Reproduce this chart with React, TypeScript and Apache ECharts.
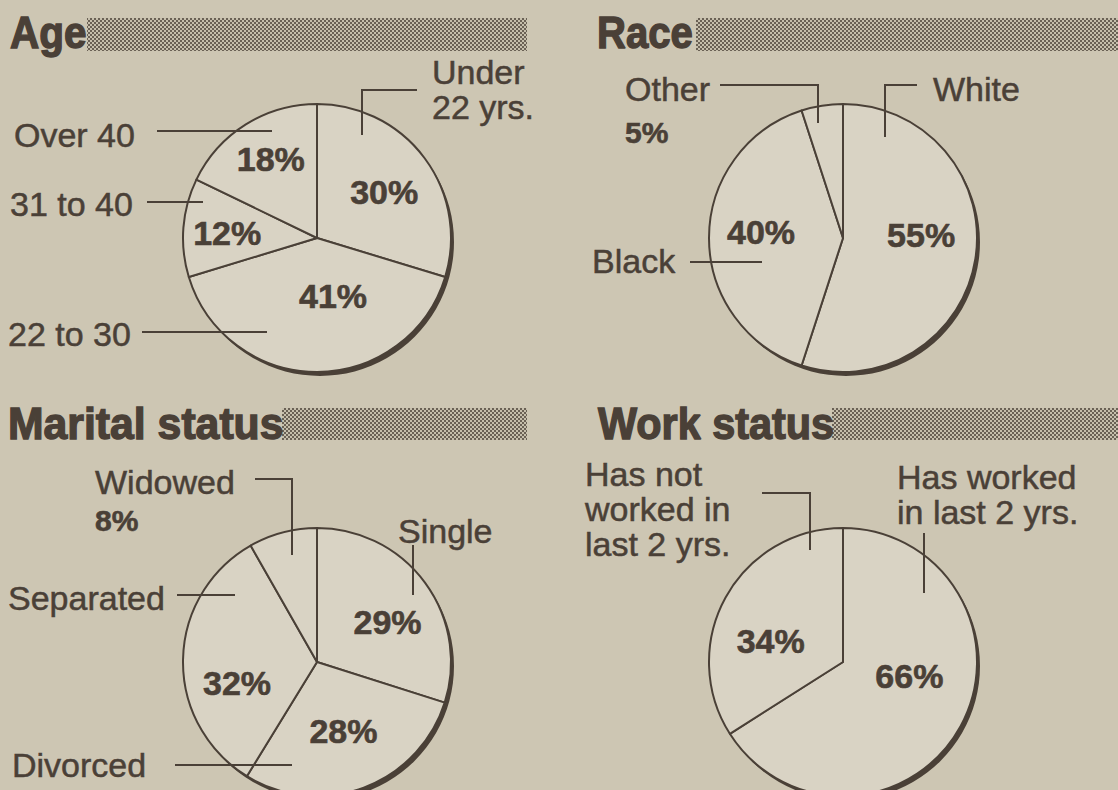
import React, { useEffect, useRef } from "react";
import * as echarts from "echarts";

// ---- data ----
const panelTitles = ["Age", "Race", "Marital status", "Work status"];

const ageCategories = ["Under\n22 yrs.", "22 to 30", "31 to 40", "Over 40"];
const ageValues = [30, 41, 12, 18];

const raceCategories = ["White", "Black", "Other"];
const raceValues = [55, 40, 5];

const maritalCategories = ["Single", "Divorced", "Separated", "Widowed"];
const maritalValues = [29, 28, 32, 8];

const workCategories = ["Has worked\nin last 2 yrs.", "Has not\nworked in\nlast 2 yrs."];
const workValues = [66, 34];

// ---- style / layout ----
const INK = "#4a4037";
const PAPER = "#cdc6b3";
const PIE_FILL = "#d9d3c4";
const FONT = '"Liberation Sans", Arial, Helvetica, sans-serif';
const R = 134;

type Callout = { idx: number; tx: number; ty: number; line: number[][]; showValue?: boolean; vy?: number };
type Panel = {
  cats: string[];
  vals: number[];
  center: number[];
  nudge: number[][];
  outside: number[];
  callouts: Callout[];
  title: { x: number; y: number; sx: number };
  bar: number[];
};

const panels: Panel[] = [
  {
    cats: ageCategories,
    vals: ageValues,
    center: [317, 238],
    nudge: [[11, -4], [16, -12], [-20, 0], [-9, -20]],
    outside: [],
    callouts: [
      { idx: 0, tx: 432, ty: 72, line: [[417, 90], [362, 90], [362, 135]] },
      { idx: 3, tx: 14, ty: 135, line: [[157, 131], [272, 131]] },
      { idx: 2, tx: 10, ty: 204, line: [[147, 202], [203, 202]] },
      { idx: 1, tx: 8, ty: 334, line: [[142, 332], [267, 332]] },
    ],
    title: { x: 10, y: 32, sx: 0.9 },
    bar: [87, 18, 440, 33],
  },
  {
    cats: raceCategories,
    vals: raceValues,
    center: [843, 238],
    nudge: [[9, -14], [-12, -6], [0, 0]],
    outside: [2],
    callouts: [
      { idx: 0, tx: 933, ty: 89, line: [[917, 85], [885, 85], [885, 137]] },
      { idx: 2, tx: 625, ty: 89, line: [[720, 85], [818, 85], [818, 123]], showValue: true, vy: 132 },
      { idx: 1, tx: 592, ty: 261, line: [[690, 262], [762, 262]] },
    ],
    title: { x: 597, y: 32, sx: 0.89 },
    bar: [696, 18, 422, 33],
  },
  {
    cats: maritalCategories,
    vals: maritalValues,
    center: [317, 662],
    nudge: [[14, 1], [2, 3], [-10, 22], [0, 0]],
    outside: [3],
    callouts: [
      { idx: 3, tx: 95, ty: 482, line: [[255, 479], [292, 479], [292, 555]], showValue: true, vy: 520 },
      { idx: 0, tx: 398, ty: 531, line: [[413, 545], [413, 595]] },
      { idx: 2, tx: 8, ty: 598, line: [[177, 595], [235, 595]] },
      { idx: 1, tx: 12, ty: 765, line: [[175, 765], [292, 765]] },
    ],
    title: { x: 8, y: 423, sx: 0.95 },
    bar: [282, 408, 245, 32],
  },
  {
    cats: workCategories,
    vals: workValues,
    center: [843, 662],
    nudge: [[5, -20], [-11, 13]],
    outside: [],
    callouts: [
      { idx: 1, tx: 585, ty: 474, line: [[762, 493], [810, 493], [810, 550]] },
      { idx: 0, tx: 897, ty: 477, line: [[924, 533], [924, 593]] },
    ],
    title: { x: 598, y: 423, sx: 0.92 },
    bar: [832, 408, 286, 32],
  },
];

function makeDots(): any {
  const c = document.createElement("canvas");
  c.width = 4;
  c.height = 4;
  const g = c.getContext("2d");
  if (!g) return "#9a9282";
  g.fillStyle = "#c6bfac";
  g.fillRect(0, 0, 4, 4);
  g.fillStyle = "#6a6155";
  g.fillRect(0, 0, 2, 2);
  g.fillRect(2, 2, 2, 2);
  return { image: c, repeat: "repeat" };
}

export default function App() {
  const ref = useRef<HTMLDivElement>(null);

  useEffect(() => {
    document.body.style.margin = "0";
    if (!ref.current) return;
    const chart = echarts.init(ref.current, null, { renderer: "svg" });
    const dots = makeDots();

    const series: any[] = [];
    const graphic: any[] = [];

    panels.forEach((p, pi) => {
      const [cx, cy] = p.center;
      // drop shadow
      series.push({
        type: "pie",
        silent: true,
        z: 1,
        center: [cx + 3, cy + 4],
        radius: R,
        label: { show: false },
        labelLine: { show: false },
        itemStyle: { color: INK, borderWidth: 0 },
        data: [{ value: 1, name: "shadow" + pi }],
      });
      series.push({
        type: "pie",
        silent: true,
        z: 2,
        center: [cx, cy],
        radius: R,
        startAngle: 90,
        clockwise: true,
        avoidLabelOverlap: false,
        itemStyle: { color: PIE_FILL, borderColor: INK, borderWidth: 2 },
        label: {
          show: true,
          position: "inside",
          formatter: "{c}%",
          color: INK,
          fontFamily: FONT,
          fontWeight: "bold",
          fontSize: 34,
          textBorderColor: INK,
          textBorderWidth: 0.6,
        },
        labelLine: { show: false },
        data: p.cats.map((name, i) => ({
          name,
          value: p.vals[i],
          label: { show: !p.outside.includes(i), offset: p.nudge[i] },
        })),
      });

      // title + halftone bar
      graphic.push({
        type: "rect",
        z: 50,
        shape: { x: p.bar[0], y: p.bar[1], width: p.bar[2], height: p.bar[3] },
        style: { fill: dots },
      });
      graphic.push({
        type: "text",
        z: 60,
        x: p.title.x,
        y: p.title.y,
        scaleX: p.title.sx,
        style: {
          text: panelTitles[pi],
          fill: INK,
          stroke: INK,
          lineWidth: 1.4,
          fontFamily: FONT,
          fontWeight: "bold",
          fontSize: 45,
          textAlign: "left",
          align: "left",
          textVerticalAlign: "middle",
          verticalAlign: "middle",
        },
      });

      // callouts
      p.callouts.forEach((c) => {
        graphic.push({
          type: "polyline",
          z: 100,
          shape: { points: c.line },
          style: { stroke: INK, lineWidth: 2, fill: null },
        });
        graphic.push({
          type: "text",
          z: 100,
          x: c.tx,
          y: c.ty - 17.5,
          style: {
            text: p.cats[c.idx],
            fill: INK,
            stroke: INK,
            lineWidth: 0.5,
            fontFamily: FONT,
            fontSize: 34,
            lineHeight: 35,
            textAlign: "left",
            align: "left",
            textVerticalAlign: "top",
            verticalAlign: "top",
          },
        });
        if (c.showValue) {
          graphic.push({
            type: "text",
            z: 100,
            x: c.tx,
            y: c.vy,
            style: {
              text: p.vals[c.idx] + "%",
              fill: INK,
              stroke: INK,
              lineWidth: 0.6,
              fontFamily: FONT,
              fontWeight: "bold",
              fontSize: 30,
              textAlign: "left",
              align: "left",
              textVerticalAlign: "middle",
              verticalAlign: "middle",
            },
          });
        }
      });
    });

    chart.setOption({
      animation: false,
      backgroundColor: PAPER,
      series,
      graphic: { elements: graphic },
    });
    return () => chart.dispose();
  }, []);

  return <div ref={ref} style={{ width: 1118, height: 790 }} />;
}
